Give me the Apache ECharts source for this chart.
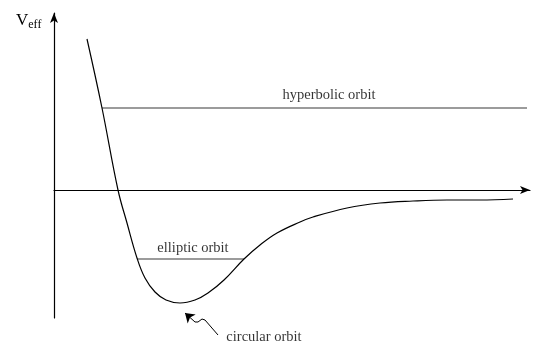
<!DOCTYPE html>
<html>
<head>
<meta charset="utf-8">
<script src="https://cdn.jsdelivr.net/npm/echarts@6/dist/echarts.min.js"></script>
<style>
  html, body { margin: 0; padding: 0; background: #fff; }
  #chart { width: 543px; height: 345px; }
</style>
</head>
<body>
<div id="chart"></div>
<script>
// effective potential, arbitrary units (r along x, V along y, V = 0 on the r axis)
const potentialCurve = [
  [33, 151], [48, 82], [64, 0], [73, -33], [83, -68], [91, -88], [101, -102],
  [112, -110], [126, -113], [141, -110], [154, -103], [170, -90], [190, -69],
  [206, -55], [223, -43], [246, -32], [259, -27], [293, -18], [326, -13],
  [359, -11], [393, -10], [426, -10], [459, -9]
];
const hyperbolicLevel = [[48, 82], [473, 82]];
const ellipticLevel = [[83, -69], [190, -69]];
const pointerHead = [[141, -132], [131, -123]];
const pointerTail = [[141, -132], [144, -132], [148, -129], [151, -130], [164, -145]];
const orbitLabels = [
  [275, 95, 'hyperbolic orbit'],
  [139, -58, 'elliptic orbit'],
  [210, -147, 'circular orbit']
];

const serif = 'Liberation Serif';
const chart = echarts.init(document.getElementById('chart'));

chart.setOption({
  animation: false,
  backgroundColor: '#fff',
  title: {
    left: 11, top: 5,
    text: '{v|V}{s|eff}',
    textStyle: {
      rich: {
        v: { fontFamily: serif, fontSize: 17, color: '#000', fontWeight: 'normal' },
        s: { fontFamily: serif, fontSize: 12, color: '#000', padding: [9, 0, 0, 0], fontWeight: 'normal' }
      }
    }
  },
  grid: { left: 54, top: 13, right: 13, bottom: 27 },
  xAxis: {
    type: 'value', min: 0, max: 476,
    axisLine: { onZero: true, symbol: ['none', 'arrow'], symbolSize: [6, 10], lineStyle: { color: '#000', width: 1.2 } },
    axisTick: { show: false }, axisLabel: { show: false }, splitLine: { show: false }
  },
  yAxis: {
    type: 'value', min: -128, max: 177,
    axisLine: { onZero: false, symbol: ['none', 'arrow'], symbolSize: [6, 10], lineStyle: { color: '#000', width: 1.2 } },
    axisTick: { show: false }, axisLabel: { show: false }, splitLine: { show: false }
  },
  series: [
    {
      name: 'hyperbolic', type: 'line', data: hyperbolicLevel, symbol: 'none',
      lineStyle: { color: '#7a7a7a', width: 1.5 }
    },
    {
      name: 'elliptic', type: 'line', data: ellipticLevel, symbol: 'none',
      lineStyle: { color: '#7a7a7a', width: 1.5 }
    },
    {
      name: 'V_eff', type: 'line', data: potentialCurve, symbol: 'none', smooth: 0.4,
      lineStyle: { color: '#000', width: 1.2 }
    },
    {
      name: 'pointerHead', type: 'lines', coordinateSystem: 'cartesian2d', clip: false,
      symbol: ['none', 'arrow'], symbolSize: 9,
      lineStyle: { color: '#000', width: 1, opacity: 1, curveness: 0 },
      data: [{ coords: pointerHead }]
    },
    {
      name: 'pointerTail', type: 'lines', coordinateSystem: 'cartesian2d', polyline: true, clip: false,
      lineStyle: { color: '#000', width: 1, opacity: 1 },
      data: [{ coords: pointerTail }]
    },
    {
      name: 'labels', type: 'scatter', symbolSize: 0, clip: false, silent: true,
      data: orbitLabels,
      label: {
        show: true, position: 'inside', formatter: p => p.value[2],
        fontFamily: serif, fontSize: 14.5, color: '#000'
      }
    }
  ]
});
</script>
</body>
</html>
